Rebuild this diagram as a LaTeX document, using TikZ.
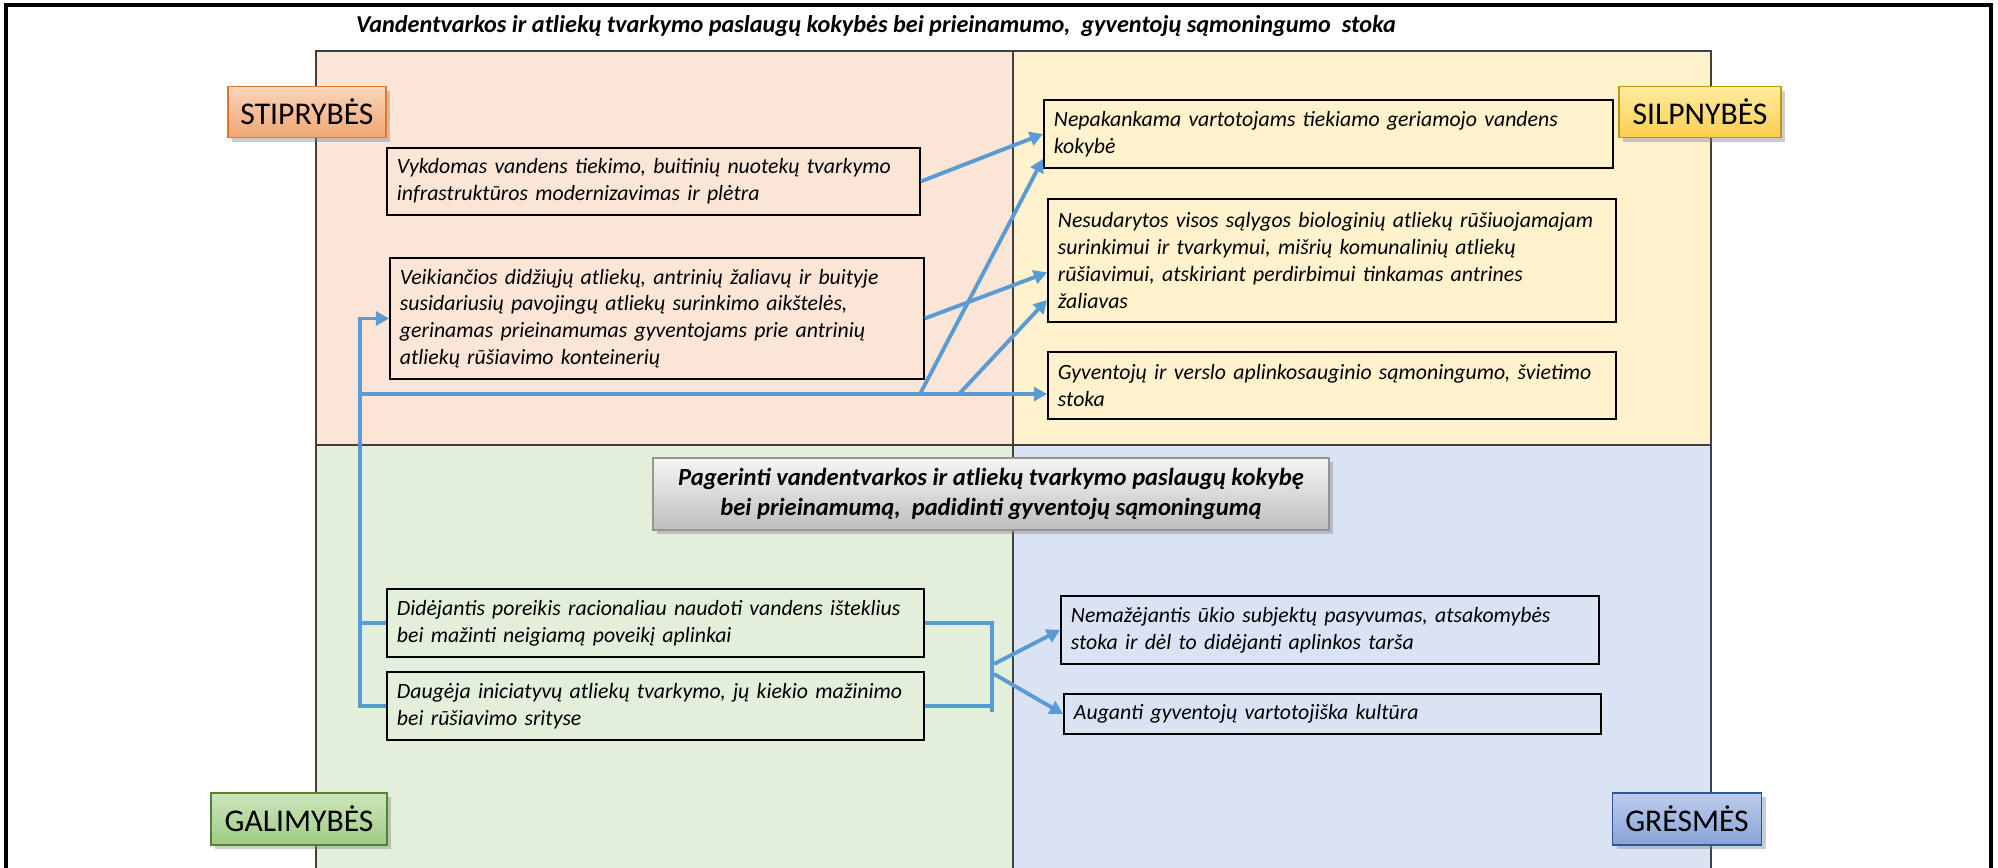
\documentclass[tikz,border=0pt]{standalone}
\usepackage{fontspec}
\setmainfont{Carlito}
\usetikzlibrary{arrows.meta,calc,shadows}
\hyphenpenalty=10000
\exhyphenpenalty=10000
\definecolor{strengths}{RGB}{251,229,214}
\definecolor{weaknesses}{RGB}{255,242,204}
\definecolor{opportunities}{RGB}{226,239,218}
\definecolor{threats}{RGB}{218,227,243}
\definecolor{linkblue}{RGB}{91,155,213}
\definecolor{gridline}{RGB}{64,64,64}
\definecolor{strengthsedge}{RGB}{226,118,46}
\definecolor{strengthslight}{RGB}{250,212,186}
\definecolor{strengthsdark}{RGB}{240,166,116}
\definecolor{weaknessesedge}{RGB}{196,150,10}
\definecolor{weaknesseslight}{RGB}{255,236,160}
\definecolor{weaknessesdark}{RGB}{250,206,80}
\definecolor{opportunitiesedge}{RGB}{84,130,53}
\definecolor{opportunitieslight}{RGB}{205,230,188}
\definecolor{opportunitiesdark}{RGB}{160,202,132}
\definecolor{threatsedge}{RGB}{47,85,151}
\definecolor{threatslight}{RGB}{188,206,238}
\definecolor{threatsdark}{RGB}{135,162,214}
\definecolor{goaledge}{RGB}{150,150,150}
\definecolor{goallight}{RGB}{245,245,245}
\definecolor{goaldark}{RGB}{190,190,190}
\tikzstyle{statement}=[draw=black, line width=1.1pt, anchor=north west, align=left, inner xsep=0.2cm, inner ysep=0pt, font=\itshape\fontsize{12.4}{15.2}\selectfont]
\tikzstyle{heading}=[line width=0.9pt, minimum height=1.02cm, inner sep=0pt, font=\fontsize{18}{21}\selectfont, drop shadow={opacity=0.4, shadow xshift=0.08cm, shadow yshift=-0.08cm}]
\tikzstyle{link}=[draw=linkblue, line width=2.2pt]
\tikzstyle{linkarrow}=[link, -{Triangle[length=7.5pt,width=8pt]}]

\begin{document}
\begin{tikzpicture}[x=0.02cm, y=-0.02cm]
            \useasboundingbox (0,0) rectangle (1998,867);
            \clip (0,0) rectangle (1998,867);
            \fill[white] (0,0) rectangle (1998,867);
            \fill[strengths] (316,51) rectangle (1013,445);
            \fill[weaknesses] (1013,51) rectangle (1711,445);
            \fill[opportunities] (316,445) rectangle (1013,900);
            \fill[threats] (1013,445) rectangle (1711,900);
            \draw[gridline, line width=1.1pt] (316,900) -- (316,51) -- (1711,51) -- (1711,900)
                (316,445) -- (1711,445) (1013,51) -- (1013,900);
            \draw[line width=2pt] (6,900) -- (6,5) -- (1991,5) -- (1991,900);

            \node[font=\bfseries\itshape\fontsize{13.8}{16}\selectfont] (title) at (876,26)
                {Vandentvarkos ir atliekų tvarkymo paslaugų kokybės bei prieinamumo,~~gyventojų sąmoningumo~~stoka};

            \node[heading, draw=strengthsedge, top color=strengthslight, bottom color=strengthsdark,
                minimum width=3.16cm] (strong) at (307,112) {STIPRYBĖS};
            \node[heading, draw=weaknessesedge, top color=weaknesseslight, bottom color=weaknessesdark,
                minimum width=3.24cm] (weak) at (1700,112) {SILPNYBĖS};
            \node[heading, draw=opportunitiesedge, top color=opportunitieslight, bottom color=opportunitiesdark,
                minimum width=3.52cm, minimum height=1.04cm] (chance) at (299,819) {GALIMYBĖS};
            \node[heading, draw=threatsedge, top color=threatslight, bottom color=threatsdark,
                minimum width=2.98cm, minimum height=1.04cm] (threat) at (1687,819) {GRĖSMĖS};

            \node[statement, text width=10.26cm, minimum height=1.34cm] (s1) at (386,147)
                {Vykdomas vandens tiekimo, buitinių nuotekų tvarkymo\\infrastruktūros modernizavimas ir plėtra};
            \node[statement, text width=10.28cm, minimum height=2.42cm] (s2) at (389,257)
                {Veikiančios didžiųjų atliekų, antrinių žaliavų ir buityje\\susidariusių pavojingų atliekų surinkimo aikštelės,\\gerinamas prieinamumas gyventojams prie antrinių\\atliekų rūšiavimo konteinerių};
            \node[statement, text width=10.98cm, minimum height=1.36cm] (w1) at (1043,99)
                {Nepakankama vartotojams tiekiamo geriamojo vandens\\kokybė};
            \node[statement, text width=10.96cm, minimum height=2.46cm] (w2) at (1047,198)
                {Nesudarytos visos sąlygos biologinių atliekų rūšiuojamajam\\surinkimui ir tvarkymui, mišrių komunalinių atliekų\\rūšiavimui, atskiriant perdirbimui tinkamas antrines\\žaliavas};
            \node[statement, text width=10.96cm, minimum height=1.34cm] (w3) at (1047,351)
                {Gyventojų ir verslo aplinkosauginio sąmoningumo, švietimo\\stoka};
            \node[statement, text width=10.34cm, minimum height=1.36cm] (o1) at (386,588)
                {Didėjantis poreikis racionaliau naudoti vandens išteklius\\bei mažinti neigiamą poveikį aplinkai};
            \node[statement, text width=10.34cm, minimum height=1.36cm] (o2) at (386,671)
                {Daugėja iniciatyvų atliekų tvarkymo, jų kiekio mažinimo\\bei rūšiavimo srityse};
            \node[statement, text width=10.36cm, minimum height=1.36cm] (t1) at (1060,595)
                {Nemažėjantis ūkio subjektų pasyvumas, atsakomybės\\stoka ir dėl to didėjanti aplinkos tarša};
            \node[statement, text width=10.34cm, minimum height=0.8cm] (t2) at (1063,693)
                {Auganti gyventojų vartotojiška kultūra};

            \node[draw=goaledge, line width=1.1pt, top color=goallight, bottom color=goaldark,
                minimum width=13.54cm, minimum height=1.44cm, align=center,
                font=\bfseries\itshape\fontsize{14}{17}\selectfont,
                drop shadow={opacity=0.4, shadow xshift=0.08cm, shadow yshift=-0.08cm}] (goal) at (991,494)
                {Pagerinti vandentvarkos ir atliekų tvarkymo paslaugų kokybę\\bei prieinamumą,~~padidinti gyventojų sąmoningumą};

            \coordinate (bus) at (360,394);
            \coordinate (j1) at (920,394);
            \coordinate (j2) at (959,394);
            \coordinate (fork) at (992,622);
            \coordinate (f1) at (994,664);
            \coordinate (f2) at (994,674);

            \draw[linkarrow] (s1.east) -- (w1.west);
            \draw[linkarrow] (j1) -- ($(w1.south west)+(0,-10)$);
            \draw[linkarrow] (s2.east) -- ($(w2.west)+(0,12)$);
            \draw[linkarrow] (j2) -- ($(w2.south west)+(0,-23)$);
            \draw[linkarrow] (bus) -- (bus -| w3.west);
            \draw[linkarrow] (o2.west) -- (o2.west -| bus) |- (s2.west);
            \draw[link] (o1.west) -- (o1.west -| bus);
            \draw[link] (o1.east) -- (o1.east -| fork) -- ($(o2.east -| fork)+(0,6)$);
            \draw[link] (o2.east) -- (o2.east -| fork);
            \draw[linkarrow] (f1) -- (t1.west);
            \draw[linkarrow] (f2) -- (t2.west);
        \end{tikzpicture}
\end{document}
